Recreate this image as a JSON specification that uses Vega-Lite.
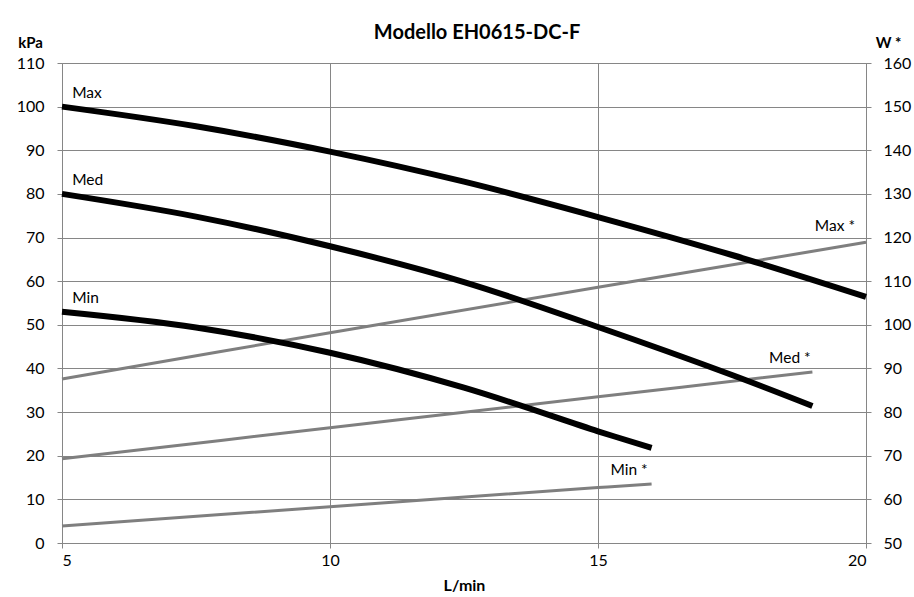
{
  "$schema": "https://vega.github.io/schema/vega-lite/v6.json",
  "autosize": "none",
  "width": 804,
  "height": 480,
  "padding": {"left": 62, "top": 63, "right": 48, "bottom": 54},
  "background": "white",
  "config": {
    "font": "Lato",
    "view": {"stroke": "#868686", "strokeWidth": 1},
    "axis": {
      "labelFont": "Lato",
      "labelFontSize": 16,
      "labelColor": "#000000",
      "titleFont": "Lato",
      "titleFontSize": 15,
      "titleFontWeight": "bold",
      "titleColor": "#000000",
      "domain": false,
      "gridColor": "#868686",
      "gridWidth": 1,
      "gridOpacity": 1,
      "tickColor": "#868686",
      "tickSize": 5
    }
  },
  "title": {
    "text": "Modello EH0615-DC-F",
    "font": "Lato",
    "fontSize": 20,
    "fontWeight": "bold",
    "color": "#000000",
    "dx": 13,
    "offset": -8
  },
  "resolve": {"scale": {"y": "independent"}},
  "layer": [
    {
      "layer": [
        {
          "data": {
            "values": [
              {"series": "Max *", "x": 5, "w": 87.6},
              {"series": "Max *", "x": 10, "w": 98.2},
              {"series": "Max *", "x": 15, "w": 108.6},
              {"series": "Max *", "x": 20, "w": 118.9},
              {"series": "Med *", "x": 5, "w": 69.3},
              {"series": "Med *", "x": 10, "w": 76.4},
              {"series": "Med *", "x": 15, "w": 83.5},
              {"series": "Med *", "x": 19, "w": 89.2},
              {"series": "Min *", "x": 5, "w": 53.9},
              {"series": "Min *", "x": 10, "w": 58.3},
              {"series": "Min *", "x": 15, "w": 62.7},
              {"series": "Min *", "x": 16, "w": 63.5}
            ]
          },
          "mark": {"type": "line", "color": "#7f7f7f", "strokeWidth": 3, "interpolate": "catmull-rom"},
          "encoding": {
            "x": {
              "field": "x", "type": "quantitative",
              "scale": {"domain": [5, 20], "nice": false, "zero": false},
              "axis": {"values": [5, 10, 15, 20], "grid": true, "title": "L/min", "titleFontSize": 16, "labelPadding": 4, "titlePadding": 9}
            },
            "y": {
              "field": "w", "type": "quantitative",
              "scale": {"domain": [50, 160], "nice": false, "zero": false},
              "axis": {
                "orient": "right", "values": [50, 60, 70, 80, 90, 100, 110, 120, 130, 140, 150, 160],
                "grid": false, "title": "W *", "titleAngle": 0, "titleAlign": "center", "titleBaseline": "middle",
                "titleX": 22, "titleY": -21, "labelPadding": 12
              }
            },
            "detail": {"field": "series"}
          }
        },
        {
          "data": {
            "values": [
              {"label": "Max *", "x": 19.42, "w": 122.6},
              {"label": "Med *", "x": 18.58, "w": 92.4},
              {"label": "Min *", "x": 15.58, "w": 66.7}
            ]
          },
          "mark": {"type": "text", "font": "Lato", "fontSize": 15.5, "color": "#000000", "align": "center", "baseline": "middle"},
          "encoding": {
            "x": {"field": "x", "type": "quantitative"},
            "y": {"field": "w", "type": "quantitative"},
            "text": {"field": "label"}
          }
        }
      ]
    },
    {
      "layer": [
        {
          "data": {
            "values": [
              {"series": "Max", "x": 5, "kpa": 100},
              {"series": "Max", "x": 7.5, "kpa": 95.5},
              {"series": "Max", "x": 10, "kpa": 89.7},
              {"series": "Max", "x": 12.5, "kpa": 82.8},
              {"series": "Max", "x": 15, "kpa": 74.7},
              {"series": "Max", "x": 17.5, "kpa": 66},
              {"series": "Max", "x": 20, "kpa": 56.4},
              {"series": "Med", "x": 5, "kpa": 80},
              {"series": "Med", "x": 7.5, "kpa": 74.8},
              {"series": "Med", "x": 10, "kpa": 68},
              {"series": "Med", "x": 12.5, "kpa": 59.8},
              {"series": "Med", "x": 15, "kpa": 49.5},
              {"series": "Med", "x": 17.5, "kpa": 38.5},
              {"series": "Med", "x": 19, "kpa": 31.4},
              {"series": "Min", "x": 5, "kpa": 53},
              {"series": "Min", "x": 7.5, "kpa": 49.4},
              {"series": "Min", "x": 10, "kpa": 43.6},
              {"series": "Min", "x": 12.5, "kpa": 35.6},
              {"series": "Min", "x": 15, "kpa": 25.6},
              {"series": "Min", "x": 16, "kpa": 21.8}
            ]
          },
          "mark": {"type": "line", "color": "#000000", "strokeWidth": 6, "interpolate": "catmull-rom"},
          "encoding": {
            "x": {
              "field": "x", "type": "quantitative",
              "scale": {"domain": [5, 20], "nice": false, "zero": false}
            },
            "y": {
              "field": "kpa", "type": "quantitative",
              "scale": {"domain": [0, 110], "nice": false, "zero": false},
              "axis": {
                "orient": "left", "values": [0, 10, 20, 30, 40, 50, 60, 70, 80, 90, 100, 110],
                "grid": true, "title": "kPa", "titleAngle": 0, "titleAlign": "center", "titleBaseline": "middle",
                "titleX": -32, "titleY": -21, "labelPadding": 13
              }
            },
            "detail": {"field": "series"}
          }
        },
        {
          "data": {
            "values": [
              {"label": "Max", "x": 5.19, "kpa": 103.1},
              {"label": "Med", "x": 5.19, "kpa": 83.2},
              {"label": "Min", "x": 5.19, "kpa": 56.1}
            ]
          },
          "mark": {"type": "text", "font": "Lato", "fontSize": 15.5, "color": "#000000", "align": "left", "baseline": "middle"},
          "encoding": {
            "x": {"field": "x", "type": "quantitative"},
            "y": {"field": "kpa", "type": "quantitative"},
            "text": {"field": "label"}
          }
        }
      ]
    }
  ]
}
